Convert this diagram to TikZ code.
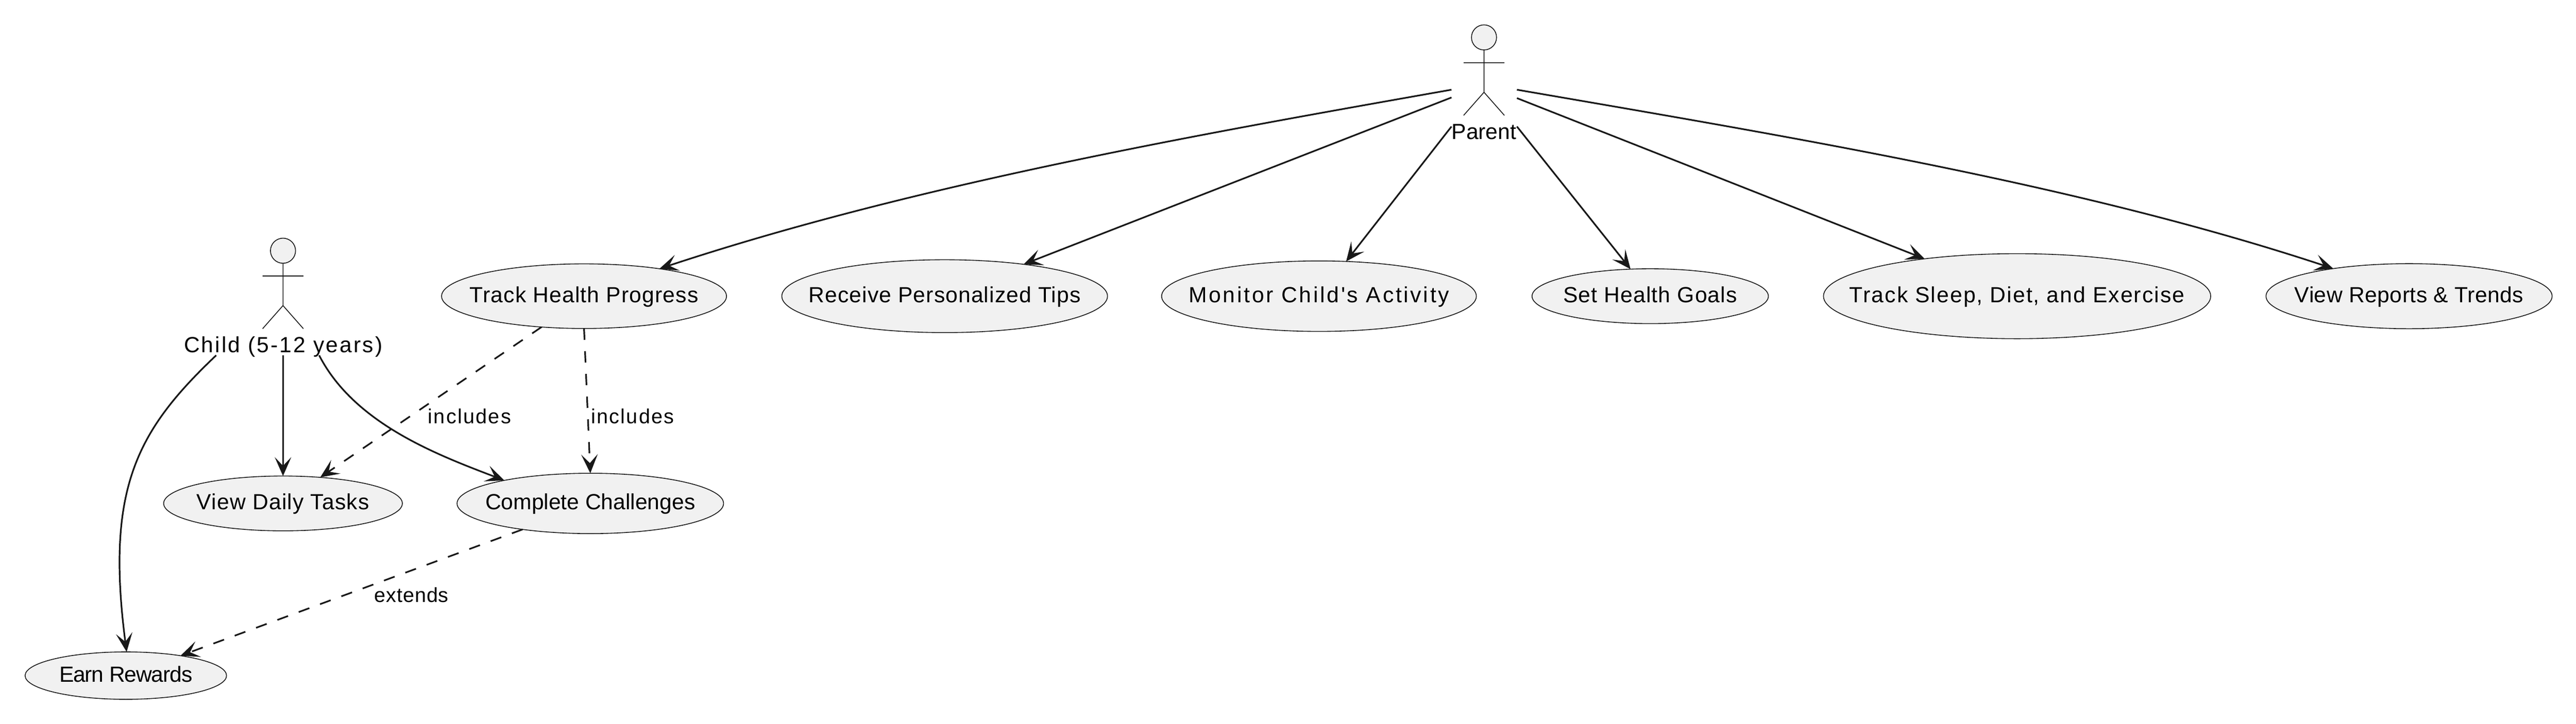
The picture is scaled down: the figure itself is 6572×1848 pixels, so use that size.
\documentclass[tikz,border=0pt]{standalone}
\usepackage{fontspec}
\setmainfont[Ligatures=TeXOff]{Liberation Sans}
\usetikzlibrary{arrows.meta,shapes.geometric}
\definecolor{umlline}{HTML}{181818}
\definecolor{umlfill}{HTML}{F1F1F1}
\tikzset{
  usecase/.style={ellipse,draw=umlline,fill=umlfill,line width=0.21pt,inner sep=0pt,outer sep=0pt,
    font=\fontsize{5.6pt}{6pt}\selectfont,text height=4pt,text depth=0.8pt},
  actorhead/.style={ellipse,draw=umlline,fill=umlfill,line width=0.21pt,inner sep=0pt,outer sep=0pt,minimum width=6.4pt,minimum height=6.4pt},
  actorbox/.style={rectangle,inner sep=0pt,outer sep=0pt},
  actorline/.style={draw=umlline,line width=0.21pt},
  actorlabel/.style={anchor=base,inner sep=0pt,font=\fontsize{5.6pt}{6pt}\selectfont},
  edgelabel/.style={anchor=base,inner sep=0pt,font=\fontsize{5.2pt}{6pt}\selectfont},
  assoc/.style={draw=umlline,line width=0.42pt,-{Stealth[length=4.8pt,width=4.2pt,inset=2.2pt]}},
  dep/.style={assoc,dash pattern=on 2.9pt off 2.9pt}
}
\newcommand{\spaced}[2]{\makebox[0pt]{\addfontfeature{LetterSpace=#1}#2}}
\newcommand{\stickfigure}[1]{\draw[actorline] (#1.south) -- ++(0,108) -- ++(-52,59) ++(52,-59) -- ++(52,59) (#1.center) ++(-52,64.5) -- ++(104,0);}
\begin{document}
\begin{tikzpicture}[x=0.1pt,y=0.1pt,yscale=-1,xscale=1]
\useasboundingbox (0,0) rectangle (6572,1848);

%Actors
\node[actorhead] (parenthead) at (3786,95.5) {};
\stickfigure{parenthead}
\node[actorbox,minimum width=16.7pt,minimum height=9.4pt] (parent) at (3786.5,276) {};
\node[actorlabel] (parentlabel) at (3786,355) {Parent};
\node[actorhead] (childhead) at (722,640) {};
\stickfigure{childhead}
\node[actorbox,minimum width=51.1pt,minimum height=30.7pt] (child) at (722,753.5) {};
\node[actorlabel] (childlabel) at (722.5,900) {\spaced{7.3}{Child (5-12 years)}};

%Use cases, first row
\node[usecase,minimum width=72.7pt,minimum height=16.5pt] (trackhealth) at (1490,756) {\spaced{2.8}{Track Health Progress}};
\node[usecase,minimum width=83.1pt,minimum height=18.6pt] (receivetips) at (2410,756) {\spaced{2.7}{Receive Personalized Tips}};
\node[usecase,minimum width=80.3pt,minimum height=18pt] (monitoractivity) at (3365,756) {\spaced{8.8}{Monitor Child's Activity}};
\node[usecase,minimum width=60.3pt,minimum height=14pt] (setgoals) at (4210,756) {\spaced{2.8}{Set Health Goals}};
\node[usecase,minimum width=98.8pt,minimum height=21.7pt] (tracksleep) at (5146,756) {\spaced{5}{Track Sleep, Diet, and Exercise}};
\node[usecase,minimum width=73pt,minimum height=16.6pt] (viewreports) at (6146,756) {\spaced{1.2}{View Reports \& Trends}};

%Use cases, lower rows
\node[usecase,minimum width=60.9pt,minimum height=14pt] (viewtasks) at (722,1285) {\spaced{2.9}{View Daily Tasks}};
\node[usecase,minimum width=68pt,minimum height=15.4pt] (challenges) at (1506,1285) {\spaced{0}{Complete Challenges}};
\node[usecase,minimum width=51.4pt,minimum height=12.1pt] (earnrewards) at (321,1724.5) {\spaced{-2.7}{Earn Rewards}};

%Parent connectors
\draw[assoc] (parent.north west) .. controls +(-650,115) and +(650,-215) .. (trackhealth.20.9);
\draw[assoc] (parent.162.1) -- (receivetips.22.3);
\draw[assoc] (parent.south west) -- (monitoractivity.52.3);
\draw[assoc] (parent.south east) -- (setgoals.126.7);
\draw[assoc] (parent.17.9) -- (tracksleep.158.3);
\draw[assoc] (parent.north east) .. controls +(700,121) and +(-650,-215) .. (viewreports.160.2);

%Child connectors
\draw[assoc] (child.222.9) .. controls +(-200,190) and +(-55,-420) .. (earnrewards.88);
\draw[assoc] (child.south) -- (viewtasks.north);
\draw[assoc] (child.301.4) .. controls +(90,175) and +(-170,-65) .. (challenges.165.7);

%Dashed connectors
\draw[dep] (trackhealth.216.3) -- (viewtasks.35.6);
\draw[dep] (trackhealth.south) -- (challenges.north);
\draw[dep] (challenges.201.5) -- (earnrewards.20.1);

% Text Node
\node[edgelabel] (includesleft) at (1198,1081) {\spaced{5.8}{includes}};
% Text Node
\node[edgelabel] (includesright) at (1614,1081) {\spaced{5.8}{includes}};
% Text Node
\node[edgelabel] (extendslabel) at (1050,1537) {\spaced{2.2}{extends}};

\end{tikzpicture}
\end{document}
